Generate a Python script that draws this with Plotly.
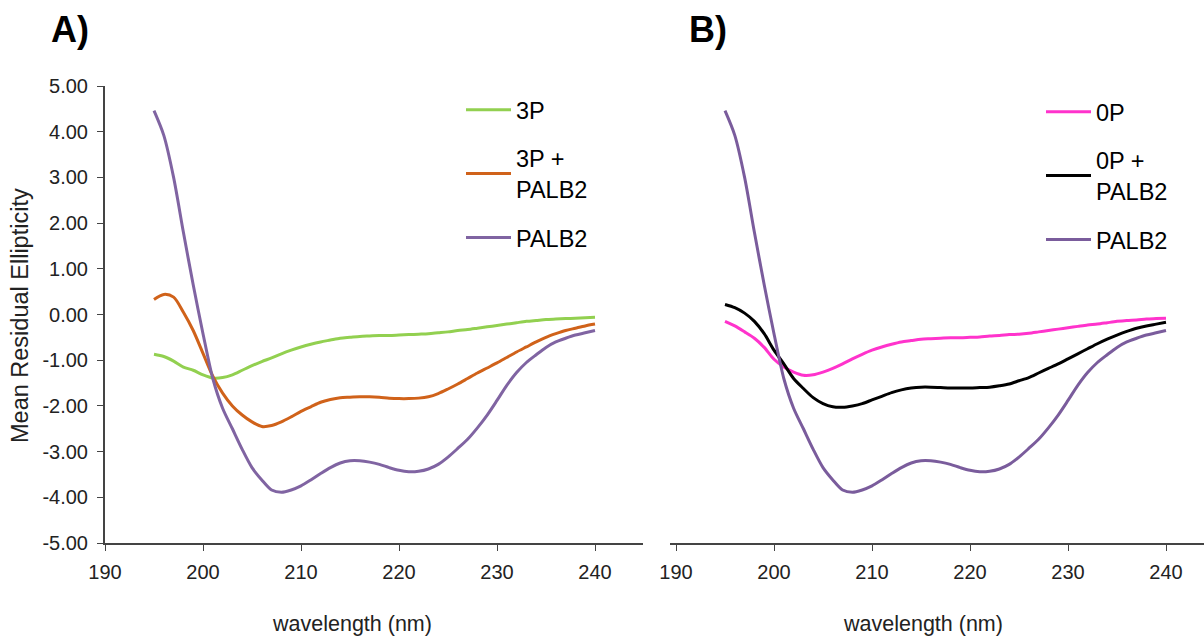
import plotly.graph_objects as go

wavelength = list(range(195, 241))

p3 = [-0.87, -0.92, -1.02, -1.15, -1.22, -1.32, -1.39, -1.38, -1.32, -1.22,
      -1.12, -1.03, -0.95, -0.86, -0.78, -0.71, -0.65, -0.60, -0.56, -0.52,
      -0.50, -0.48, -0.47, -0.46, -0.46, -0.45, -0.44, -0.43, -0.42, -0.40,
      -0.38, -0.35, -0.33, -0.30, -0.27, -0.24, -0.21, -0.18, -0.15, -0.13,
      -0.11, -0.10, -0.09, -0.08, -0.07, -0.06]

p3_palb2 = [0.33, 0.44, 0.38, 0.05, -0.35, -0.85, -1.35, -1.72, -2.00, -2.20,
            -2.35, -2.45, -2.43, -2.35, -2.24, -2.12, -2.02, -1.92, -1.86, -1.82,
            -1.81, -1.80, -1.80, -1.81, -1.83, -1.84, -1.84, -1.83, -1.80, -1.73,
            -1.63, -1.52, -1.40, -1.28, -1.17, -1.06, -0.94, -0.82, -0.71, -0.60,
            -0.50, -0.42, -0.35, -0.30, -0.25, -0.21]

palb2 = [4.46, 3.92, 3.00, 1.80, 0.65, -0.42, -1.40, -2.05, -2.50, -2.95,
         -3.35, -3.62, -3.84, -3.89, -3.84, -3.75, -3.62, -3.48, -3.35, -3.25,
         -3.20, -3.20, -3.23, -3.28, -3.35, -3.41, -3.44, -3.43, -3.38, -3.28,
         -3.12, -2.93, -2.73, -2.48, -2.20, -1.88, -1.55, -1.27, -1.05, -0.88,
         -0.72, -0.60, -0.52, -0.45, -0.40, -0.35]

p0 = [-0.15, -0.25, -0.38, -0.52, -0.72, -0.98, -1.15, -1.26, -1.33, -1.32,
      -1.26, -1.18, -1.08, -0.97, -0.87, -0.78, -0.71, -0.65, -0.60, -0.57,
      -0.54, -0.53, -0.52, -0.51, -0.51, -0.50, -0.49, -0.47, -0.46, -0.44,
      -0.43, -0.41, -0.38, -0.35, -0.32, -0.29, -0.26, -0.23, -0.21, -0.18,
      -0.15, -0.13, -0.12, -0.10, -0.09, -0.08]

p0_palb2 = [0.22, 0.15, 0.03, -0.15, -0.42, -0.78, -1.08, -1.40, -1.62, -1.82,
            -1.95, -2.02, -2.03, -2.00, -1.95, -1.87, -1.79, -1.71, -1.65, -1.61,
            -1.59, -1.59, -1.60, -1.61, -1.61, -1.61, -1.60, -1.59, -1.56, -1.52,
            -1.45, -1.38, -1.28, -1.18, -1.08, -0.97, -0.86, -0.75, -0.64, -0.54,
            -0.45, -0.37, -0.30, -0.25, -0.21, -0.17]

y_ticks = [5, 4, 3, 2, 1, 0, -1, -2, -3, -4, -5]
y_tick_labels = ["5.00", "4.00", "3.00", "2.00", "1.00", "0.00",
                 "-1.00", "-2.00", "-3.00", "-4.00", "-5.00"]
x_ticks = [190, 200, 210, 220, 230, 240]

FONT = "Liberation Sans, Arial, sans-serif"
W, H = 1204, 637

fig = go.Figure()

def add(x, y, name, color, xa, ya, leg):
    fig.add_trace(go.Scatter(
        x=x, y=y, name=name, mode="lines",
        line=dict(color=color, width=3, shape="spline", smoothing=0.8),
        xaxis=xa, yaxis=ya, legend=leg, legendgroup=name + leg,
    ))

add(wavelength, p3, "3P", "#92D050", "x", "y", "legend")
add(wavelength, p3_palb2, "3P +<br>PALB2", "#D0621A", "x", "y", "legend")
add(wavelength, palb2, "PALB2", "#8064A2", "x", "y", "legend")
add(wavelength, p0, "0P", "#FF33CC", "x2", "y2", "legend2")
add(wavelength, p0_palb2, "0P +<br>PALB2", "#000000", "x2", "y2", "legend2")
add(wavelength, palb2, "PALB2", "#7A5C9C", "x2", "y2", "legend2")

px_per_nm = 9.8
axis_color = "#444444"
tickfont = dict(family=FONT, size=20, color="#222222")

ybot = (H - 543) / H
ytop = (H - 86) / H

legfont = dict(family=FONT, size=23.5, color="#000")

xcommon = dict(tickvals=x_ticks, ticks="outside", ticklen=6, tickcolor=axis_color,
               showline=True, linecolor=axis_color, linewidth=2, automargin=False,
               showgrid=False, zeroline=False, tickfont=tickfont, ticklabelstandoff=4)

fig.update_layout(
    width=W, height=H, autosize=False,
    margin=dict(l=0, r=0, t=0, b=0, pad=0, autoexpand=False),
    paper_bgcolor="white", plot_bgcolor="white",
    xaxis=dict(domain=[105 / W, 643 / W],
               range=[190, 190 + (643 - 105) / px_per_nm], anchor="y", **xcommon),
    yaxis=dict(domain=[ybot, ytop], range=[-5, 5],
               tickvals=y_ticks, ticktext=y_tick_labels, ticks="outside", ticklen=6,
               tickcolor=axis_color, showline=True, linecolor=axis_color, linewidth=2,
               automargin=False, ticklabelstandoff=5,
               showgrid=False, zeroline=False, tickfont=tickfont, anchor="x"),
    xaxis2=dict(domain=[670 / W, 1.0],
                range=[190 - (676 - 670) / px_per_nm, 190 + (1204 - 676) / px_per_nm],
                anchor="y2", **xcommon),
    yaxis2=dict(domain=[ybot, ytop], range=[-5, 5], visible=False, anchor="x2",
                automargin=False),
    legend=dict(x=461 / W, y=1 - 88 / H, xanchor="left", yanchor="top",
                bgcolor="rgba(0,0,0,0)", font=legfont,
                tracegroupgap=15, itemwidth=45),
    legend2=dict(x=1041 / W, y=1 - 90 / H, xanchor="left", yanchor="top",
                 bgcolor="rgba(0,0,0,0)", font=legfont,
                 tracegroupgap=15, itemwidth=45),
    showlegend=True,
)

def note(text, x, y, size, angle=0, color="#222"):
    fig.add_annotation(text=text, x=x / W, y=1 - y / H, xref="paper", yref="paper",
                       xanchor="center", yanchor="middle", textangle=angle,
                       showarrow=False, font=dict(family=FONT, size=size, color=color))

note("<b>A)</b>", 70, 30, 36, color="#000")
note("<b>B)</b>", 708, 30, 36, color="#000")
note("Mean Residual Ellipticity", 20, 316, 23.5, angle=-90)
note("wavelength (nm)", 352, 624, 21.5)
note("wavelength (nm)", 923, 624, 21.5)

fig.write_html("out.html", config={"displayModeBar": False},
               post_script="document.body.style.margin='0';")
